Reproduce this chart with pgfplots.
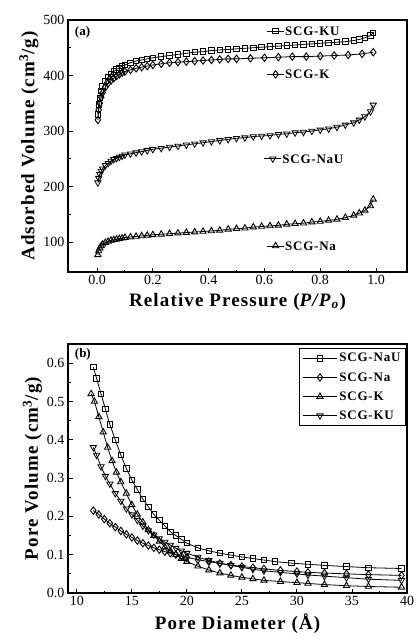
\documentclass[border=0pt]{standalone}
\usepackage{pgfplots}
\pgfplotsset{compat=1.18}
\usepackage{fontspec}
\setmainfont{Liberation Serif}
\newfontfamily\lblfont[LetterSpace=6]{Liberation Serif}
\begin{document}
\begin{tikzpicture}[x=1pt,y=1pt]
\useasboundingbox (0,0) rectangle (416,-639);
\pgfplotsset{
  every axis/.append style={
    scale only axis, width=339pt,
    axis line style={line width=1.1pt},
    tick align=inside, xtick pos=bottom, ytick pos=left,
    minor tick num=1,
    major tick length=4.5pt, minor tick length=2.5pt,
    tick style={line width=0.9pt, black},
    tick label style={font=\fontsize{14}{14}\selectfont},
    label style={font=\fontsize{19}{19}\selectfont\lblfont\bfseries},
    /pgf/number format/assume math mode=true,
    every axis plot/.append style={black, line width=0.8pt, mark size=2.8pt, mark options={solid, fill=white, line width=0.9pt}},
  },
  sq/.style={mark=square, mark size=2.7pt},
  dm/.style={mark=diamond, mark size=3.7pt},
  tu/.style={mark=triangle, mark size=3.6pt},
  td/.style={mark=triangle, mark size=3.6pt, mark options={rotate=180}},
}
% ---------- (a) isotherms ----------
\begin{axis}[
  at={(68pt,-20pt)}, anchor=north west, height=252pt,
  xmin=-0.104, xmax=1.111, ymin=46, ymax=500,
  xtick={0,0.2,...,1.0}, ytick={100,200,...,500},
  xticklabel style={/pgf/number format/.cd, fixed, fixed zerofill, precision=1},
  xlabel={Relative Pressure (\textit{P/P}\textsubscript{\textit{o}})},
  ylabel={Adsorbed Volume (cm\textsuperscript{3}/g)},
  xlabel style={yshift=-1pt}, ylabel style={yshift=-2pt},
]
% SCG-KU
\addplot[sq] coordinates {
(0.003,330) (0.006,348) (0.01,360) (0.015,372) (0.02,380) (0.03,390) (0.04,397) (0.05,403) (0.06,407) (0.07,411) (0.08,414) (0.09,417) (0.1,419) (0.12,423) (0.14,426) (0.16,428) (0.18,430) (0.2,432) (0.23,434) (0.26,436) (0.29,438) (0.32,440) (0.35,442) (0.38,443) (0.41,445) (0.44,446) (0.47,447) (0.5,448) (0.53,449) (0.56,450) (0.59,451) (0.62,452) (0.65,453) (0.68,454) (0.71,455) (0.74,456) (0.77,457) (0.8,458) (0.83,459) (0.86,460) (0.89,461) (0.92,463) (0.94,465) (0.96,468) (0.98,472) (0.99,477)};
% SCG-K
\addplot[dm] coordinates {
(0.003,320) (0.006,338) (0.01,350) (0.015,361) (0.02,369) (0.03,379) (0.04,386) (0.05,391) (0.06,395) (0.07,399) (0.08,402) (0.09,405) (0.1,407) (0.12,410) (0.14,413) (0.16,415) (0.18,417) (0.2,419) (0.23,421) (0.26,423) (0.29,424) (0.32,425) (0.35,426) (0.38,427) (0.41,428) (0.44,429) (0.47,430) (0.5,430) (0.55,431) (0.6,432) (0.65,433) (0.7,434) (0.75,434) (0.8,435) (0.85,436) (0.9,437) (0.95,439) (0.99,442)};
% SCG-NaU
\addplot[td] coordinates {
(0.003,207) (0.006,215) (0.01,222) (0.015,228) (0.02,232) (0.03,238) (0.04,242) (0.05,246) (0.06,249) (0.07,251) (0.08,253) (0.09,255) (0.1,257) (0.12,259) (0.14,261) (0.16,263) (0.18,265) (0.2,267) (0.23,269) (0.26,271) (0.29,273) (0.32,275) (0.35,277) (0.38,279) (0.41,281) (0.44,283) (0.47,285) (0.5,287) (0.53,288) (0.56,290) (0.59,291) (0.62,292) (0.65,294) (0.68,295) (0.71,297) (0.74,298) (0.77,300) (0.8,302) (0.83,304) (0.86,307) (0.89,311) (0.92,315) (0.94,320) (0.96,326) (0.98,335) (0.99,347)};
% SCG-Na
\addplot[tu] coordinates {
(0.003,77) (0.006,84) (0.01,89) (0.015,93) (0.02,96) (0.03,99) (0.04,101) (0.05,103) (0.06,104) (0.07,105) (0.08,106) (0.09,107) (0.1,108) (0.12,109) (0.14,110) (0.16,111) (0.18,112) (0.2,113) (0.23,114) (0.26,115) (0.29,116) (0.32,117) (0.35,118) (0.38,119) (0.41,120) (0.44,121) (0.47,123) (0.5,124) (0.53,125) (0.56,127) (0.59,128) (0.62,129) (0.65,130) (0.68,132) (0.71,133) (0.74,134) (0.77,136) (0.8,137) (0.83,139) (0.86,141) (0.89,144) (0.92,148) (0.94,152) (0.96,157) (0.98,165) (0.99,177)};
% in-plot keys
\addplot[sq, mark indices={2}] coordinates {(0.61,480) (0.64,480) (0.67,480)};
\addplot[dm, mark indices={2}] coordinates {(0.61,402) (0.64,402) (0.67,402)};
\addplot[td, mark indices={2}] coordinates {(0.60,250) (0.63,250) (0.66,250)};
\addplot[tu, mark indices={2}] coordinates {(0.61,93) (0.64,93) (0.67,93)};
\begin{scope}[font=\fontsize{13}{13}\selectfont\lblfont\bfseries]
\node[anchor=west, inner sep=1pt] at (axis cs:0.67,480) {SCG-KU};
\node[anchor=west, inner sep=1pt] at (axis cs:0.67,402) {SCG-K};
\node[anchor=west, inner sep=1pt] at (axis cs:0.66,250) {SCG-NaU};
\node[anchor=west, inner sep=1pt] at (axis cs:0.67,93) {SCG-Na};
\end{scope}
\node[anchor=north west, font=\fontsize{13}{13}\selectfont\bfseries] at (rel axis cs:0.01,0.99) {(a)};
\end{axis}
% ---------- (b) pore size distribution ----------
\begin{axis}[
  at={(68pt,-344pt)}, anchor=north west, height=249pt,
  xmin=9.2, xmax=40, ymin=0, ymax=0.65,
  xtick={10,15,...,40}, ytick={0,0.1,...,0.6},
  yticklabel style={/pgf/number format/.cd, fixed, fixed zerofill, precision=1},
  xlabel={Pore Diameter (Å)},
  ylabel={Pore Volume (cm\textsuperscript{3}/g)},
  xlabel style={yshift=-1pt}, ylabel style={yshift=-2pt},
  legend style={at={(0.997,0.985)}, anchor=north east, draw=black, line width=1.1pt,
    font=\fontsize{13}{13}\selectfont\lblfont\bfseries, row sep=5pt, inner sep=3pt},
  legend cell align=left,
  legend image code/.code={\draw[#1, line width=0.9pt] (0pt,0pt) -- (34pt,0pt); \draw[#1, mark repeat=1] plot coordinates {(17pt,0pt)};},
]
\addplot[sq] coordinates {
(11.5,0.59) (11.8,0.56) (12.2,0.52) (12.6,0.48) (13.0,0.44) (13.5,0.40) (14.0,0.36) (14.5,0.325) (15.0,0.295) (15.5,0.27) (16.0,0.245) (16.5,0.225) (17,0.205) (17.5,0.19) (18,0.175) (18.5,0.16) (19,0.15) (19.5,0.14) (20,0.13) (21,0.118) (22,0.11) (23,0.104) (24,0.099) (25,0.094) (26,0.09) (27,0.086) (28,0.082) (29.5,0.078) (31,0.075) (32.5,0.072) (34.5,0.069) (36.5,0.066) (39.5,0.064)};
\addlegendentry{SCG-NaU}
\addplot[dm] coordinates {
(11.5,0.215) (12,0.205) (12.5,0.193) (13,0.182) (13.5,0.172) (14,0.162) (14.5,0.153) (15,0.145) (15.5,0.137) (16,0.13) (16.5,0.124) (17,0.118) (17.5,0.113) (18,0.108) (18.5,0.104) (19,0.1) (19.5,0.096) (20,0.093) (21,0.087) (22,0.082) (23,0.077) (24,0.073) (25,0.069) (26,0.066) (27,0.063) (28.5,0.059) (30,0.056) (31,0.054) (32.5,0.052) (34.5,0.05) (36.5,0.048) (39.5,0.046)};
\addlegendentry{SCG-Na}
\addplot[tu] coordinates {
(11.3,0.52) (11.6,0.50) (12.0,0.46) (12.4,0.42) (12.8,0.38) (13.2,0.345) (13.6,0.315) (14,0.29) (14.5,0.26) (15,0.23) (15.5,0.205) (16,0.185) (16.5,0.165) (17,0.15) (17.5,0.135) (18,0.12) (18.5,0.11) (19,0.10) (19.5,0.09) (20,0.082) (21,0.07) (22,0.06) (23,0.052) (24,0.046) (25,0.041) (26,0.037) (27,0.033) (28.5,0.03) (30,0.027) (31,0.025) (32.5,0.022) (34.5,0.019) (36.5,0.017) (39.5,0.015)};
\addlegendentry{SCG-K}
\addplot[td] coordinates {
(11.5,0.38) (11.8,0.36) (12.2,0.33) (12.6,0.305) (13,0.285) (13.5,0.26) (14,0.24) (14.5,0.22) (15,0.205) (15.5,0.19) (16,0.175) (16.5,0.163) (17,0.152) (17.5,0.142) (18,0.133) (18.5,0.125) (19,0.117) (19.5,0.11) (20,0.104) (21,0.094) (22,0.085) (23,0.078) (24,0.072) (25,0.067) (26,0.062) (27,0.058) (28.5,0.054) (30,0.05) (31,0.047) (32.5,0.044) (34.5,0.04) (36.5,0.036) (39.5,0.033)};
\addlegendentry{SCG-KU}
\node[anchor=north west, font=\fontsize{13}{13}\selectfont\bfseries] at (rel axis cs:0.01,0.995) {(b)};
\end{axis}
\end{tikzpicture}
\end{document}
